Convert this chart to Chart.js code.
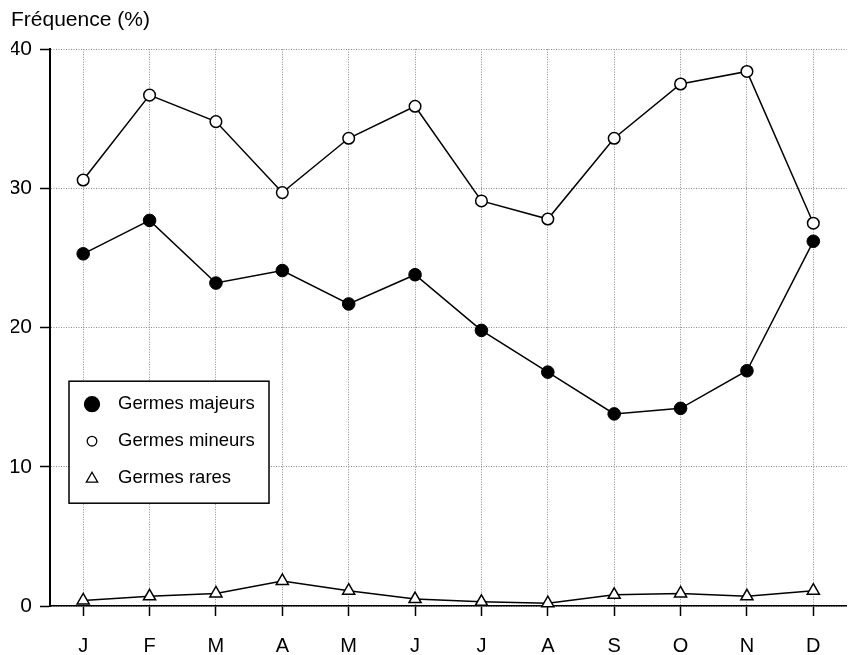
<!DOCTYPE html>
<html>
<head>
<meta charset="utf-8">
<script src="https://cdn.jsdelivr.net/npm/chart.js@4/dist/chart.umd.min.js"></script>
<style>
html,body{margin:0;padding:0;background:#fff;}
#wrap{width:855px;height:655px;}
</style>
</head>
<body>
<div id="wrap"><canvas id="c" width="855" height="655"></canvas></div>
<script>
const months = ['J','F','M','A','M','J','J','A','S','O','N','D'];
const majeurs = [25.3, 27.7, 23.2, 24.1, 21.7, 23.8, 19.8, 16.8, 13.8, 14.2, 16.9, 26.2];
const mineurs = [30.6, 36.7, 34.8, 29.7, 33.6, 35.9, 29.1, 27.8, 33.6, 37.5, 38.4, 27.5];
const rares = [0.4, 0.7, 0.9, 1.8, 1.1, 0.5, 0.3, 0.2, 0.8, 0.9, 0.7, 1.1];
const seriesNames = ['Germes majeurs', 'Germes mineurs', 'Germes rares'];
const yTicks = [0, 10, 20, 30, 40];
const titleText = 'Fréquence (%)';

const FONT = "'Liberation Sans', Arial, Helvetica, sans-serif";

const boxLegend = {
  id: 'boxLegend',
  afterDatasetsDraw(chart) {
    const {ctx, chartArea} = chart;
    const x0 = chartArea.left + 19, y0 = chartArea.top + 332, w = 200, h = 122;
    ctx.save();
    ctx.fillStyle = '#fff';
    ctx.fillRect(x0, y0, w, h);
    ctx.strokeStyle = '#000';
    ctx.lineWidth = 1.5;
    ctx.strokeRect(x0, y0, w, h);
    const radii = [7.5, 4.8, 6];
    chart.data.datasets.forEach((ds, i) => {
      const cx = x0 + 23, cy = y0 + 23 + i * 37;
      const r = radii[i];
      ctx.beginPath();
      if (ds.pointStyle === 'triangle') {
        ctx.moveTo(cx, cy - r);
        ctx.lineTo(cx + r * 0.95, cy + r * 0.65);
        ctx.lineTo(cx - r * 0.95, cy + r * 0.65);
        ctx.closePath();
      } else {
        ctx.arc(cx, cy, r, 0, Math.PI * 2);
      }
      ctx.fillStyle = ds.pointBackgroundColor;
      ctx.fill();
      ctx.lineWidth = 1.3;
      ctx.strokeStyle = '#000';
      ctx.stroke();
      ctx.fillStyle = '#000';
      ctx.font = '18.5px ' + FONT;
      ctx.textBaseline = 'middle';
      ctx.textAlign = 'left';
      ctx.fillText(ds.label, x0 + 49, cy);
    });
    ctx.restore();
  }
};

new Chart(document.getElementById('c'), {
  type: 'line',
  data: {
    labels: months,
    datasets: [
      {label: seriesNames[0], data: majeurs, borderColor: '#000', borderWidth: 1.5,
       pointStyle: 'circle', pointRadius: 6.3, pointBackgroundColor: '#000', pointBorderColor: '#000', pointBorderWidth: 1, clip: false},
      {label: seriesNames[1], data: mineurs, borderColor: '#000', borderWidth: 1.5,
       pointStyle: 'circle', pointRadius: 5.8, pointBackgroundColor: '#fff', pointBorderColor: '#000', pointBorderWidth: 1.5, clip: false},
      {label: seriesNames[2], data: rares, borderColor: '#000', borderWidth: 1.5,
       pointStyle: 'triangle', pointRadius: 7, pointBackgroundColor: '#fff', pointBorderColor: '#000', pointBorderWidth: 1.5, clip: false}
    ]
  },
  options: {
    responsive: false,
    animation: false,
    devicePixelRatio: 1,
    layout: {padding: {left: 11, right: 5, top: 0, bottom: 0}},
    plugins: {
      legend: {display: false},
      tooltip: {enabled: false},
      title: {
        display: true, text: titleText, align: 'start', color: '#000',
        font: {family: FONT, size: 21, weight: 'normal', lineHeight: 1.2},
        padding: {top: 8, bottom: 16}
      }
    },
    scales: {
      x: {
        type: 'category',
        offset: true,
        afterFit(scale) { scale.height = 49; },
        grid: {display: true, offset: false, drawOnChartArea: true, color: '#8a8a8a', lineWidth: 1,
               drawTicks: true, tickLength: 10, tickColor: '#000', tickWidth: 1.5},
        border: {display: true, color: '#000', width: 1.5, dash: [1, 1.5]},
        ticks: {color: '#000', padding: 20, font: {family: FONT, size: 20, lineHeight: 1}, maxRotation: 0, autoSkip: false}
      },
      y: {
        min: 0, max: 40,
        afterBuildTicks(scale) { scale.ticks = yTicks.map(v => ({value: v})); },
        afterFit(scale) { scale.width = 39; },
        grid: {display: true, color: '#8a8a8a', lineWidth: 1,
               drawTicks: true, tickLength: 10, tickColor: '#000', tickWidth: 1.5},
        border: {display: true, color: '#000', width: 2, dash: [1, 1.5]},
        ticks: {color: '#000', padding: 8, font: {family: FONT, size: 21, lineHeight: 1}}
      }
    }
  },
  plugins: [boxLegend]
});
</script>
</body>
</html>
